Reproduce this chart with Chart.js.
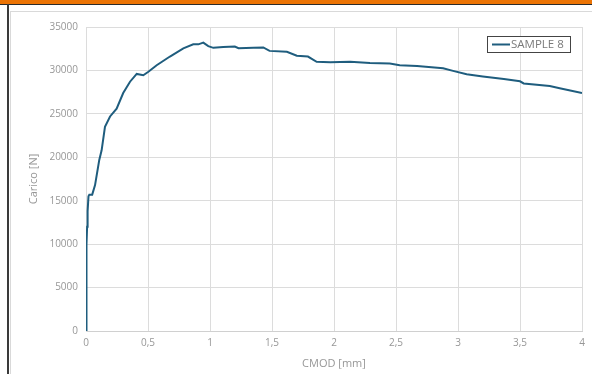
<!DOCTYPE html>
<html>
<head>
<meta charset="utf-8">
<script src="https://cdn.jsdelivr.net/npm/chart.js@4.4.1/dist/chart.umd.min.js"></script>
<style>
    html, body { margin: 0; padding: 0; background: #fff; }
    body { width: 592px; height: 374px; position: relative; overflow: hidden; }
    .topbar { position: absolute; left: 0; top: 0; width: 592px; height: 4px; background: #ec7405; border-bottom: 1px solid #2b2b2b; }
    .leftline { position: absolute; left: 7px; top: 4px; width: 2px; height: 370px; background: #3a3a3a; }
    .frame { position: absolute; left: 10px; top: 11px; width: 600px; height: 400px; border-left: 1px solid #d9d9d9; border-top: 1px solid #d9d9d9; }
    #chartWrap { position: absolute; left: 11px; top: 12px; width: 581px; height: 362px; }
</style>
</head>
<body>
<div class="topbar"></div>
<div class="leftline"></div>
<div class="frame"></div>
<div id="chartWrap"><canvas id="chart"></canvas></div>
<script>
// CMOD [mm] and load [N]
const cmod = [0, 0.002, 0.004, 0.006, 0.009, 0.013, 0.02, 0.027, 0.05, 0.073, 0.107, 0.126, 0.153, 0.194, 0.247,
    0.30, 0.355, 0.409, 0.462, 0.503, 0.57, 0.677, 0.785, 0.865, 0.906, 0.946, 0.986, 1.027, 1.107, 1.20,
    1.23, 1.35, 1.43, 1.48, 1.62, 1.70, 1.79, 1.86, 1.97, 2.13, 2.29, 2.45, 2.53, 2.67, 2.88,
    2.96, 3.07, 3.20, 3.37, 3.50, 3.53, 3.74, 3.82, 4.0];
const carico = [0, 3800, 7500, 10000, 12000, 13800, 15500, 15700, 15700, 16800, 19700, 20800, 23500, 24700, 25600,
    27400, 28700, 29600, 29450, 29850, 30600, 31600, 32550, 33000, 33000, 33200, 32800, 32600, 32700, 32750,
    32550, 32600, 32650, 32250, 32150, 31700, 31600, 31000, 30950, 31000, 30850, 30800, 30600, 30500, 30250,
    29950, 29550, 29300, 29000, 28750, 28500, 28200, 27950, 27400];
const seriesName = 'SAMPLE 8';
const xTicks = [0, 0.5, 1, 1.5, 2, 2.5, 3, 3.5, 4];
const yTicks = [0, 5000, 10000, 15000, 20000, 25000, 30000, 35000];

const lineColor = '#1f5d7e';
const textColor = '#979797';
const gridColor = '#dcdcdc';
const fontFamily = '"Open Sans", "Noto Sans", sans-serif';

const points = cmod.map((x, i) => ({ x: x, y: carico[i] }));

// legend box drawn inside the plot area, top right
const insideLegend = {
    id: 'insideLegend',
    afterDraw(chart) {
        const ctx = chart.ctx;
        const area = chart.chartArea;
        const w = 83, h = 16;
        const x = area.right - 12 - w;
        const y = area.top + 9;
        ctx.save();
        ctx.fillStyle = '#fff';
        ctx.fillRect(x, y, w, h);
        ctx.strokeStyle = '#444';
        ctx.lineWidth = 1;
        ctx.strokeRect(x + 0.5, y + 0.5, w, h);
        ctx.strokeStyle = lineColor;
        ctx.lineWidth = 2;
        ctx.beginPath();
        ctx.moveTo(x + 5, y + h / 2 + 0.5);
        ctx.lineTo(x + 23, y + h / 2 + 0.5);
        ctx.stroke();
        ctx.fillStyle = '#7a7a7a';
        ctx.font = '11.5px ' + fontFamily;
        ctx.textBaseline = 'middle';
        ctx.fillText(seriesName, x + 24, y + h / 2 + 1);
        ctx.restore();
    }
};

new Chart(document.getElementById('chart'), {
    type: 'line',
    data: {
        datasets: [{
            label: seriesName,
            data: points,
            borderColor: lineColor,
            borderWidth: 2,
            pointRadius: 0,
            tension: 0,
            fill: false
        }]
    },
    options: {
        responsive: true,
        maintainAspectRatio: false,
        animation: false,
        layout: { padding: { left: 0, top: 15, right: 10, bottom: 0 } },
        plugins: {
            legend: { display: false },
            tooltip: { enabled: false }
        },
        scales: {
            x: {
                type: 'linear',
                min: 0,
                max: 4,
                afterBuildTicks: (scale) => { scale.ticks = xTicks.map(v => ({ value: v })); },
                afterFit: (scale) => { scale.height = 43; },
                grid: { color: gridColor, drawTicks: false },
                border: { color: '#d0d0d0' },
                ticks: {
                    color: textColor,
                    font: { family: fontFamily, size: 10 },
                    padding: 6,
                    maxRotation: 0,
                    callback: (v) => String(v).replace('.', ',')
                },
                title: {
                    display: true,
                    text: 'CMOD [mm]',
                    color: textColor,
                    font: { family: fontFamily, size: 11 },
                    padding: { top: 4, bottom: 4 }
                }
            },
            y: {
                min: 0,
                max: 35000,
                afterBuildTicks: (scale) => { scale.ticks = yTicks.map(v => ({ value: v })); },
                afterFit: (scale) => { scale.width = 75; },
                grid: { color: gridColor, drawTicks: false },
                border: { color: gridColor },
                ticks: {
                    color: textColor,
                    font: { family: fontFamily, size: 10 },
                    padding: 8,
                    callback: (v) => String(v)
                },
                title: {
                    display: true,
                    text: 'Carico [N]',
                    color: textColor,
                    font: { family: fontFamily, size: 11 },
                    padding: { top: 16, bottom: 0 }
                }
            }
        }
    },
    plugins: [insideLegend]
});
</script>
</body>
</html>
